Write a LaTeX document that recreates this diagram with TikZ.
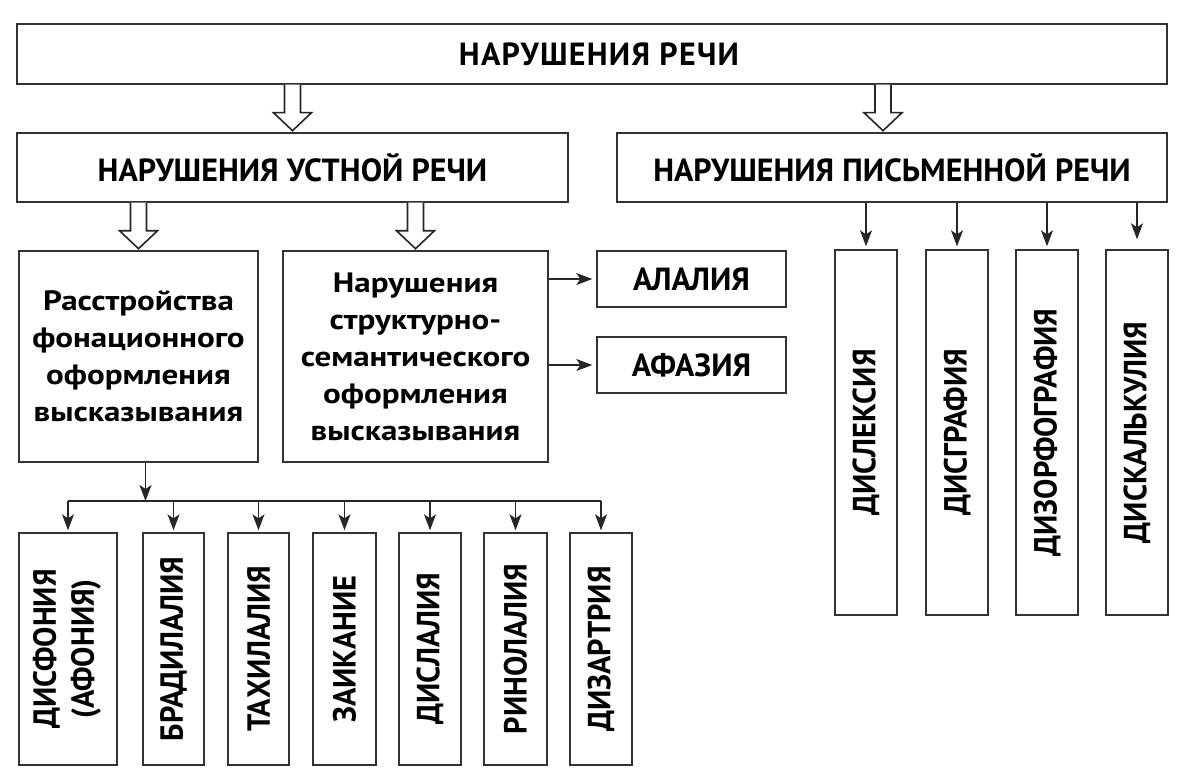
\documentclass[tikz,border=0pt]{standalone}
\usepackage{fontspec}
\usepackage{graphicx}
\setmainfont{PT Sans}
\newfontfamily\topfont{PT Sans}[LetterSpace=4]
\newfontfamily\vfont{PT Sans}[FakeStretch=0.95]
\newfontfamily\parafont{PT Sans}[FakeStretch=1.18]
\usetikzlibrary{arrows.meta}
\newcommand\vtxt[1]{\rotatebox{90}{#1}}
\begin{document}
\begin{tikzpicture}[x=1pt,y=-1pt,
  box/.style={draw=black!80, line width=1.4pt, inner sep=0pt, align=center, fill=white},
  head/.style={box, font=\bfseries\fontsize{32}{38}\selectfont},
  tophead/.style={box, font=\topfont\bfseries\fontsize{32}{38}\selectfont},
  para/.style={box, font=\parafont\bfseries\fontsize{28}{37}\selectfont},
  vbox/.style={box, font=\vfont\bfseries\fontsize{32}{34}\selectfont},
  arr/.style={draw=black!85, line width=1.4pt, -{Stealth[length=16pt,width=12pt,inset=4pt]}},
  bus/.style={draw=black!85, line width=1.4pt},
  harrow/.pic={\draw[line width=1.6pt, draw=black!85, fill=white] (-8,0) -- (-8,28) -- (-19,28) -- (0,46) -- (19,28) -- (8,28) -- (8,0);}
]
\useasboundingbox (0,0) rectangle (1200,773);
\fill[white] (0,0) rectangle (1200,773);

% top levels
\node[tophead, minimum width=1150pt, minimum height=60pt] (top) at (592,54) {\hspace*{14pt}НАРУШЕНИЯ РЕЧИ};
\node[head, minimum width=551pt, minimum height=69pt] (oral) at (292.5,167.5) {НАРУШЕНИЯ УСТНОЙ РЕЧИ};
\node[head, minimum width=550pt, minimum height=69pt] (writ) at (892,167.5) {НАРУШЕНИЯ ПИСЬМЕННОЙ РЕЧИ};

% oral subgroups
\node[para, minimum width=239pt, minimum height=211pt] (raz) at (138.5,356.5) {Расстройства\\фонационного\\оформления\\высказывания};
\node[para, minimum width=265pt, minimum height=211pt] (nar) at (415.5,356.5) {Нарушения\\структурно-\\семантического\\оформления\\высказывания};
\node[head, minimum width=189pt, minimum height=56pt] (alal) at (691.5,279) {АЛАЛИЯ};
\node[head, minimum width=189pt, minimum height=56pt] (afaz) at (691.5,365) {АФАЗИЯ};

% written subtypes
\node[vbox, minimum width=62pt, minimum height=365pt] (w1) at (866,432.5) {\vtxt{ДИСЛЕКСИЯ}};
\node[vbox, minimum width=62pt, minimum height=365pt] (w2) at (957,432.5) {\vtxt{ДИСГРАФИЯ}};
\node[vbox, minimum width=62pt, minimum height=365pt] (w3) at (1047,432.5) {\vtxt{ДИЗОРФОГРАФИЯ}};
\node[vbox, minimum width=62pt, minimum height=365pt] (w4) at (1137,432.5) {\vtxt{ДИСКАЛЬКУЛИЯ}};

% phonation subtypes
\node[vbox, minimum width=98pt, minimum height=232pt] (b1) at (68,649) {\vtxt{\begin{tabular}{@{}c@{}}ДИСФОНИЯ\\[4pt](АФОНИЯ)\end{tabular}}};
\node[vbox, minimum width=61pt, minimum height=232pt] (b2) at (173.5,649) {\vtxt{БРАДИЛАЛИЯ}};
\node[vbox, minimum width=61pt, minimum height=232pt] (b3) at (258.5,649) {\vtxt{ТАХИЛАЛИЯ}};
\node[vbox, minimum width=63pt, minimum height=232pt] (b4) at (344.5,649) {\vtxt{ЗАИКАНИЕ}};
\node[vbox, minimum width=62pt, minimum height=232pt] (b5) at (430,649) {\vtxt{ДИСЛАЛИЯ}};
\node[vbox, minimum width=63pt, minimum height=232pt] (b6) at (515.5,649) {\vtxt{РИНОЛАЛИЯ}};
\node[vbox, minimum width=62pt, minimum height=232pt] (b7) at (601,649) {\vtxt{ДИЗАРТРИЯ}};

% hollow arrows
\pic at (oral.north |- top.south) {harrow};
\pic at ([xshift=-9pt]writ.north |- top.south) {harrow};
\pic at (raz.north |- oral.south) {harrow};
\pic at (nar.north |- oral.south) {harrow};

% thin arrows
\draw[arr, shorten >=4pt] (nar.east |- alal.west) -- (alal.west);
\draw[arr, shorten >=4pt] (nar.east |- afaz.west) -- (afaz.west);

\draw[arr, shorten >=3pt] (w1.north |- writ.south) -- (w1.north);
\draw[arr, shorten >=3pt] (w2.north |- writ.south) -- (w2.north);
\draw[arr, shorten >=3pt] (w3.north |- writ.south) -- (w3.north);
\draw[arr, shorten >=10pt] (w4.north |- writ.south) -- (w4.north);

\coordinate (busy) at (0,501);
\draw[arr] ([xshift=7pt]raz.south) -- ([xshift=7pt]raz.south |- busy);
\draw[bus] (b1.north |- busy) -- (b7.north |- busy);
\foreach \b in {b1,b2,b3,b4,b5,b6,b7}
  \draw[arr, shorten >=2pt] (\b.north |- busy) -- (\b.north);
\end{tikzpicture}
\end{document}
